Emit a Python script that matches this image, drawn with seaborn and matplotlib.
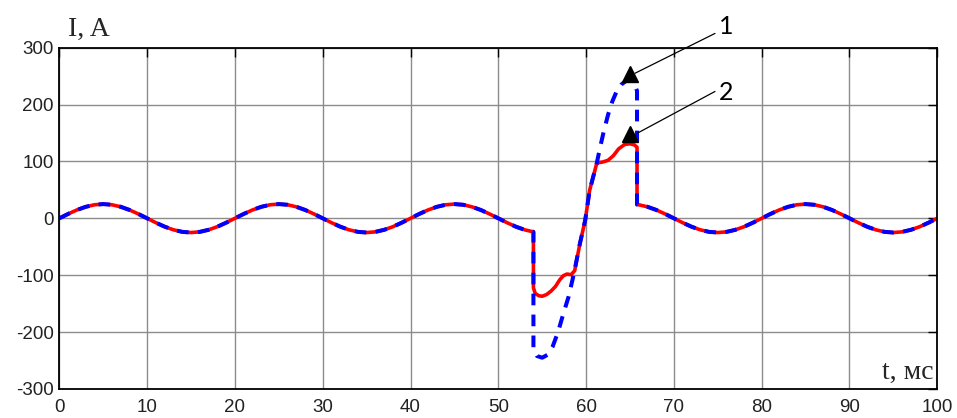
import numpy as np
import pandas as pd
import matplotlib
matplotlib.use("Agg")
import matplotlib.pyplot as plt
import seaborn as sns

# Steady-state current before the fault, t = 0..54 ms (1 ms step)
t_pre = list(range(0, 55))
i_pre = [0, 7.7, 14.7, 20.2, 23.8, 25, 23.8, 20.2, 14.7, 7.7,
         0, -7.7, -14.7, -20.2, -23.8, -25, -23.8, -20.2, -14.7, -7.7,
         0, 7.7, 14.7, 20.2, 23.8, 25, 23.8, 20.2, 14.7, 7.7,
         0, -7.7, -14.7, -20.2, -23.8, -25, -23.8, -20.2, -14.7, -7.7,
         0, 7.7, 14.7, 20.2, 23.8, 25, 23.8, 20.2, 14.7, 7.7,
         0, -7.7, -14.7, -20.2, -23.8]

# Curve 1 (dashed) during the transient
t_fault_1 = [54.0, 54.4, 55.0, 55.6, 56.2, 56.8, 57.4, 58.0, 58.6, 59.3,
             59.9, 60.4, 61.2, 61.6, 62.0, 62.5, 63.0, 63.5, 64.0, 64.5,
             65.0, 65.5, 65.8, 65.8]
i_fault_1 = [-230, -242, -245, -240, -225, -200, -168, -138, -98, -44,
             -3, 49, 96, 125, 152, 182, 206, 224, 235, 241,
             242, 236, 224, 24.2]

# Curve 2 (solid) during the transient
t_fault_2 = [54.0, 54.2, 54.6, 55.0, 55.5, 56.0, 56.5, 57.0, 57.4, 57.8,
             58.3, 58.7, 59.3, 59.9, 60.4, 61.2, 61.5, 61.9, 62.5, 63.1,
             63.7, 64.4, 65.0, 65.5, 65.8, 65.8]
i_fault_2 = [-122, -132, -136, -137, -134, -128, -120, -108, -101, -98,
             -99, -92, -44, -3, 49, 96, 98, 99, 102, 110,
             122, 130, 131, 129, 125, 24.2]

# Steady-state current after the fault is cleared, t = 66..100 ms
t_post = list(range(66, 101))
i_post = [23.8, 20.2, 14.7, 7.7,
          0, -7.7, -14.7, -20.2, -23.8, -25, -23.8, -20.2, -14.7, -7.7,
          0, 7.7, 14.7, 20.2, 23.8, 25, 23.8, 20.2, 14.7, 7.7,
          0, -7.7, -14.7, -20.2, -23.8, -25, -23.8, -20.2, -14.7, -7.7,
          0]

x_ticks = [0, 10, 20, 30, 40, 50, 60, 70, 80, 90, 100]
y_ticks = [-300, -200, -100, 0, 100, 200, 300]

curve_labels = ["1", "2"]

df1 = pd.DataFrame({"t": t_pre + t_fault_1 + t_post,
                    "i": i_pre + i_fault_1 + i_post})
df2 = pd.DataFrame({"t": t_pre + t_fault_2 + t_post,
                    "i": i_pre + i_fault_2 + i_post})

sns.set_theme(style="white")
plt.rcParams["font.family"] = ["Liberation Sans", "DejaVu Sans"]
plt.rcParams["axes.unicode_minus"] = False

fig = plt.figure(figsize=(9.57, 4.18), dpi=100)
ax = fig.add_axes([0.062, 0.0694, 0.9174, 0.8166])

sns.lineplot(data=df2, x="t", y="i", ax=ax, sort=False, estimator=None,
             color="#ff0000", linewidth=2.6, solid_capstyle="butt")
sns.lineplot(data=df1, x="t", y="i", ax=ax, sort=False, estimator=None,
             color="#0000ff", linewidth=2.9, dash_capstyle="butt")
ax.lines[-1].set_linestyle((0, (2.9, 2.3)))

ax.set_xlim(0, 100)
ax.set_ylim(-300, 300)
ax.set_xticks(x_ticks)
ax.set_yticks(y_ticks)
ax.set_xlabel("")
ax.set_ylabel("")
ax.grid(True, color="#8c8c8c", linewidth=1.0)
ax.set_axisbelow(True)
for s in ax.spines.values():
    s.set_color("black")
    s.set_linewidth(1.3)
ax.tick_params(direction="in", length=6.5, width=1.0, color="black",
               top=True, right=True, labelsize=13.5, labelcolor="#222222")
ax.tick_params(axis="y", pad=4)
ax.tick_params(axis="x", pad=7)

# Curve callouts: triangular pointers with leader lines to the numbers
peak1 = max(i_fault_1)
peak2 = max(i_fault_2)
callouts = [
    (65.0, peak1 + 12, 65.57, peak1 + 13, 74.68, 325, 76.0, 338),
    (65.0, peak2 + 17, 65.76, peak2 + 18, 74.68, 223, 76.0, 221),
]
for lab, (mx, my, x0, y0, x1, y1, tx, ty) in zip(curve_labels, callouts):
    ax.plot([x0, x1], [y0, y1], color="black", linewidth=0.9, clip_on=False)
    ax.plot([mx], [my], marker="^", markersize=11, color="black",
            linestyle="none", clip_on=False)
    ax.text(tx, ty, lab, fontsize=18, ha="center", va="center",
            family=["Lato", "DejaVu Sans"], color="black", clip_on=False)

fig.text(68 / 957, 1 - 36 / 418, "I, A", fontsize=20, ha="left",
         va="baseline", family=["Liberation Serif", "DejaVu Serif"])
fig.text(933 / 957, 1 - 379.3 / 418, "t, мс", fontsize=20, ha="right",
         va="baseline", family=["Liberation Serif", "DejaVu Serif"])

fig.savefig("out.png", dpi=100)
